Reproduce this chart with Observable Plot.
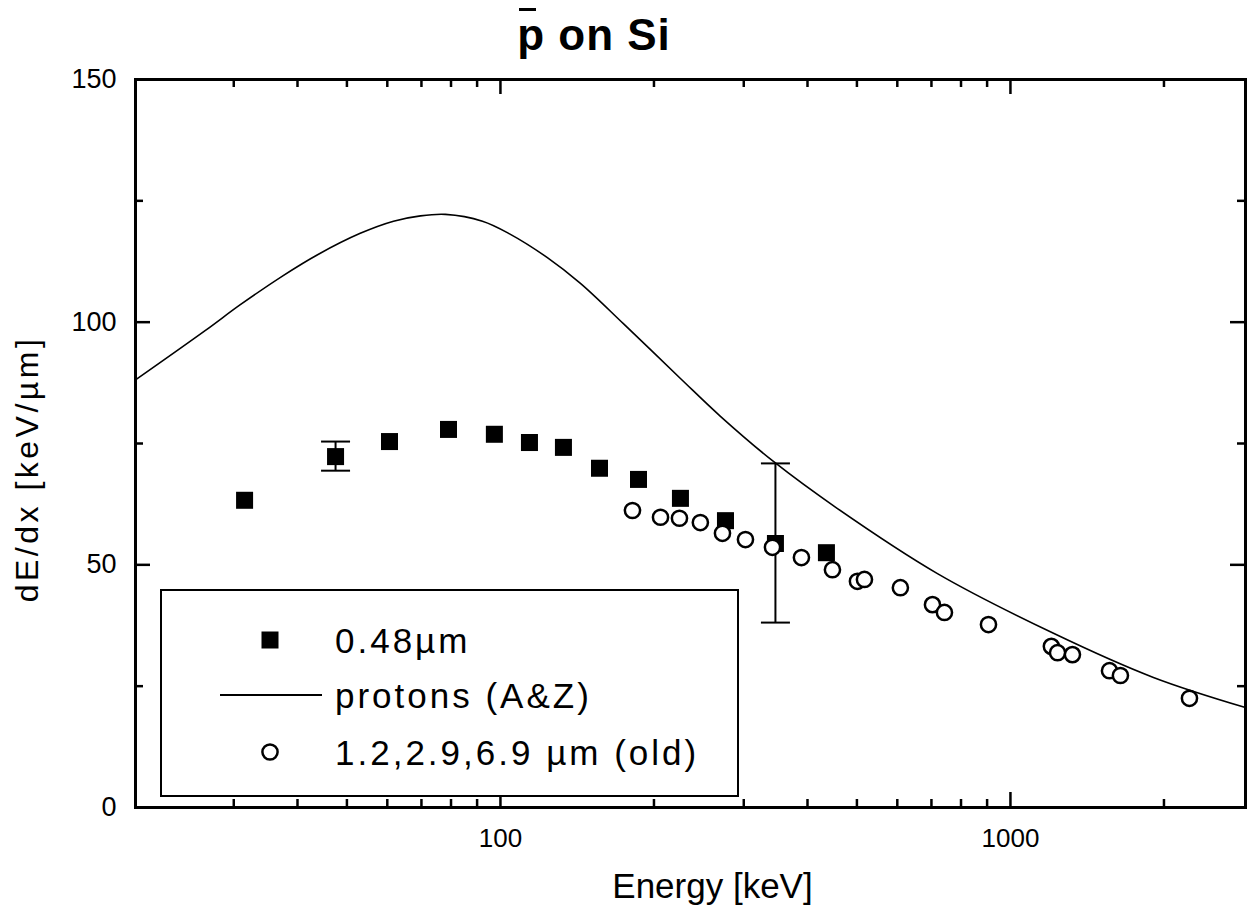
<!DOCTYPE html>
<html>
<head>
<meta charset="utf-8">
<script src="https://cdn.jsdelivr.net/npm/d3@7"></script>
<script src="https://cdn.jsdelivr.net/npm/@observablehq/plot@0.6"></script>
<style>
  body { margin: 0; background: #fff; }
  #wrap { position: relative; width: 1250px; height: 923px; background: #fff; font-family: "Liberation Sans", Arial, Helvetica, sans-serif; color: #000; }
  #title { position: absolute; left: 394px; top: 13px; width: 400px; text-align: center; font-weight: bold; font-size: 44px; line-height: 44px; letter-spacing: 1px; }
  #title .bar { position: relative; }
  #title .bar::before { content: ""; position: absolute; left: 2px; width: 17px; top: -2px; height: 3px; background: #000; }
  #ytitle { position: absolute; left: 27px; top: 469px; transform: translate(-50%, -50%) rotate(-90deg); font-size: 32px; line-height: 32px; letter-spacing: 3.5px; white-space: nowrap; }
  #legend { position: absolute; left: 160px; top: 589px; width: 579px; height: 208px; box-sizing: border-box; border: 2px solid #000; background: #fff; }
  #legend svg { position: absolute; left: 0; top: 0; }
  #legend .row { position: absolute; left: 173px; font-size: 35px; line-height: 35px; letter-spacing: 3px; white-space: nowrap; }
</style>
</head>
<body>
<div id="wrap">
  <div id="title"><span class="bar">p</span> on Si</div>
</div>
<script>
// ---- data ----
// 0.48 µm target (filled squares)
const sqEnergy = [31.5, 47.5, 60.6, 79.1, 97.3, 114.0, 132.9, 156.4, 186.5, 225.4, 276.2, 346.1, 435.7];
const sqDedx   = [63.3, 72.3, 75.4, 77.9, 76.9, 75.2, 74.2, 69.9, 67.6, 63.7, 59.1, 54.4, 52.5];
// error bars on two of the squares
const errEnergy = [47.5, 346.1];
const errLow    = [69.4, 38.1];
const errHigh   = [75.4, 70.9];
// 1.2, 2.9, 6.9 µm (old) open circles
const oldEnergy = [181.5, 206.0, 224.4, 246.6, 272.5, 302.3, 341.5, 389.2, 447.7, 501.2, 517.3, 608.4, 703.3, 742.3, 905.6, 1203, 1237, 1323, 1564, 1643, 2244];
const oldDedx   = [61.2, 59.8, 59.6, 58.7, 56.5, 55.2, 53.6, 51.5, 49.0, 46.6, 47.0, 45.3, 41.8, 40.2, 37.7, 33.2, 31.9, 31.5, 28.2, 27.2, 22.5];
// protons (Andersen & Ziegler) curve
const protonEnergy = [19.25, 26.4, 30.9, 37.5, 43.8, 53.1, 61.7, 69.7, 78.0, 92.2, 104.2, 123.6, 143.5, 174.2, 225.4, 270.0, 343.0, 458.0, 719.3, 1214.5, 1907, 2889];
const protonDedx   = [88.1, 98.3, 103.6, 109.6, 113.9, 118.3, 120.8, 121.9, 122.2, 120.8, 118.2, 113.3, 108.0, 99.7, 88.4, 80.6, 71.3, 61.6, 48.2, 35.9, 26.8, 20.6];
// ticks
const xLabelTicks = [100, 1000];
const xMinorTicks = [30, 40, 50, 60, 70, 80, 90, 200, 300, 400, 500, 600, 700, 800, 900, 2000];
const yLabelTicks = [0, 50, 100, 150];
const yMinorTicks = [25, 75, 125];
// texts
const legendLabels = ["0.48\u00b5m", "protons (A&Z)", "1.2,2.9,6.9 \u00b5m (old)"];
const xTitle = "Energy [keV]";
const yTitle = "dE/dx [keV/\u00b5m]";

// ---- tables ----
const squares = sqEnergy.map((e, i) => ({E: e, v: sqDedx[i]}));
const errs = errEnergy.map((e, i) => ({E: e, lo: errLow[i], hi: errHigh[i]}));
const old = oldEnergy.map((e, i) => ({E: e, v: oldDedx[i]}));
const proton = protonEnergy.map((e, i) => ({E: e, v: protonDedx[i]}));

// ---- layout ----
const W = 1250, H = 923;
const mL = 135, mR = 5, mT = 79, mB = 116;
const innerW = W - mL - mR, innerH = H - mT - mB;
const majorLen = 15, minorLen = 8;

const capSymbol = {draw(ctx) { ctx.moveTo(-14.5, 0); ctx.lineTo(14.5, 0); }};

const chart = Plot.plot({
  width: W, height: H,
  marginLeft: mL, marginRight: mR, marginTop: mT, marginBottom: mB,
  style: {fontFamily: '"Liberation Sans", Arial, Helvetica, sans-serif', background: "#fff", color: "#000"},
  x: {type: "log", domain: [19.25, 2890], axis: null},
  y: {domain: [0, 150], axis: null},
  marks: [
    // inward ticks on all four sides
    Plot.tickY(yLabelTicks, {insetRight: innerW - majorLen, strokeWidth: 2.5, stroke: "#000"}),
    Plot.tickY(yMinorTicks, {insetRight: innerW - minorLen, strokeWidth: 2.5, stroke: "#000"}),
    Plot.tickY(yLabelTicks, {insetLeft: innerW - majorLen, strokeWidth: 2.5, stroke: "#000"}),
    Plot.tickY(yMinorTicks, {insetLeft: innerW - minorLen, strokeWidth: 2.5, stroke: "#000"}),
    Plot.tickX(xLabelTicks, {insetTop: innerH - majorLen, strokeWidth: 2.5, stroke: "#000"}),
    Plot.tickX(xMinorTicks, {insetTop: innerH - minorLen, strokeWidth: 2.5, stroke: "#000"}),
    Plot.tickX(xLabelTicks, {insetBottom: innerH - majorLen, strokeWidth: 2.5, stroke: "#000"}),
    Plot.tickX(xMinorTicks, {insetBottom: innerH - minorLen, strokeWidth: 2.5, stroke: "#000"}),
    Plot.frame({stroke: "#000", strokeWidth: 3}),
    // tick labels
    Plot.text(yLabelTicks, {y: d => d, frameAnchor: "left", textAnchor: "end", dx: -19, fontSize: 27, fill: "#000"}),
    Plot.text(xLabelTicks, {x: d => d, frameAnchor: "bottom", lineAnchor: "top", dy: 21, fontSize: 26, fill: "#000", text: d => String(d)}),
    // x axis title
    Plot.text([xTitle], {frameAnchor: "bottom", lineAnchor: "bottom", dx: 22, dy: 90, fontSize: 35, fill: "#000"}),
    // data
    Plot.line(proton, {x: "E", y: "v", curve: "catmull-rom", stroke: "#000", strokeWidth: 1.6}),
    Plot.ruleX(errs, {x: "E", y1: "lo", y2: "hi", stroke: "#000", strokeWidth: 2}),
    Plot.dot(errs, {x: "E", y: "lo", symbol: capSymbol, fill: "none", stroke: "#000", strokeWidth: 2}),
    Plot.dot(errs, {x: "E", y: "hi", symbol: capSymbol, fill: "none", stroke: "#000", strokeWidth: 2}),
    Plot.dot(squares, {x: "E", y: "v", symbol: "square", r: 9.6, fill: "#000", stroke: "none"}),
    Plot.dot(old, {x: "E", y: "v", symbol: "circle", r: 7.6, fill: "#fff", stroke: "#000", strokeWidth: 2.5})
  ]
});

const wrap = document.getElementById("wrap");
wrap.insertBefore(chart, wrap.firstChild);

// ---- y axis title ----
const yt = document.createElement("div");
yt.id = "ytitle";
yt.textContent = yTitle;
wrap.appendChild(yt);

// ---- legend (inside the plot area, lower left) ----
const legend = document.createElement("div");
legend.id = "legend";
const rowCenters = [51, 106, 163];
const ns = "http://www.w3.org/2000/svg";
const lsvg = document.createElementNS(ns, "svg");
lsvg.setAttribute("width", 575); lsvg.setAttribute("height", 204);
const sq = document.createElementNS(ns, "rect");
sq.setAttribute("x", 108 - 8.5); sq.setAttribute("y", rowCenters[0] - 2 - 8.5);
sq.setAttribute("width", 17); sq.setAttribute("height", 17); sq.setAttribute("fill", "#000");
lsvg.appendChild(sq);
const ln = document.createElementNS(ns, "line");
ln.setAttribute("x1", 58); ln.setAttribute("x2", 160);
ln.setAttribute("y1", rowCenters[1] - 2); ln.setAttribute("y2", rowCenters[1] - 2);
ln.setAttribute("stroke", "#000"); ln.setAttribute("stroke-width", 2);
lsvg.appendChild(ln);
const ci = document.createElementNS(ns, "circle");
ci.setAttribute("cx", 108); ci.setAttribute("cy", rowCenters[2] - 2); ci.setAttribute("r", 7.6);
ci.setAttribute("fill", "#fff"); ci.setAttribute("stroke", "#000"); ci.setAttribute("stroke-width", 2.5);
lsvg.appendChild(ci);
legend.appendChild(lsvg);
legendLabels.forEach((t, i) => {
  const d = document.createElement("div");
  d.className = "row";
  d.style.top = (rowCenters[i] - 2 - 17.5) + "px";
  d.textContent = t;
  legend.appendChild(d);
});
wrap.appendChild(legend);
</script>
</body>
</html>
